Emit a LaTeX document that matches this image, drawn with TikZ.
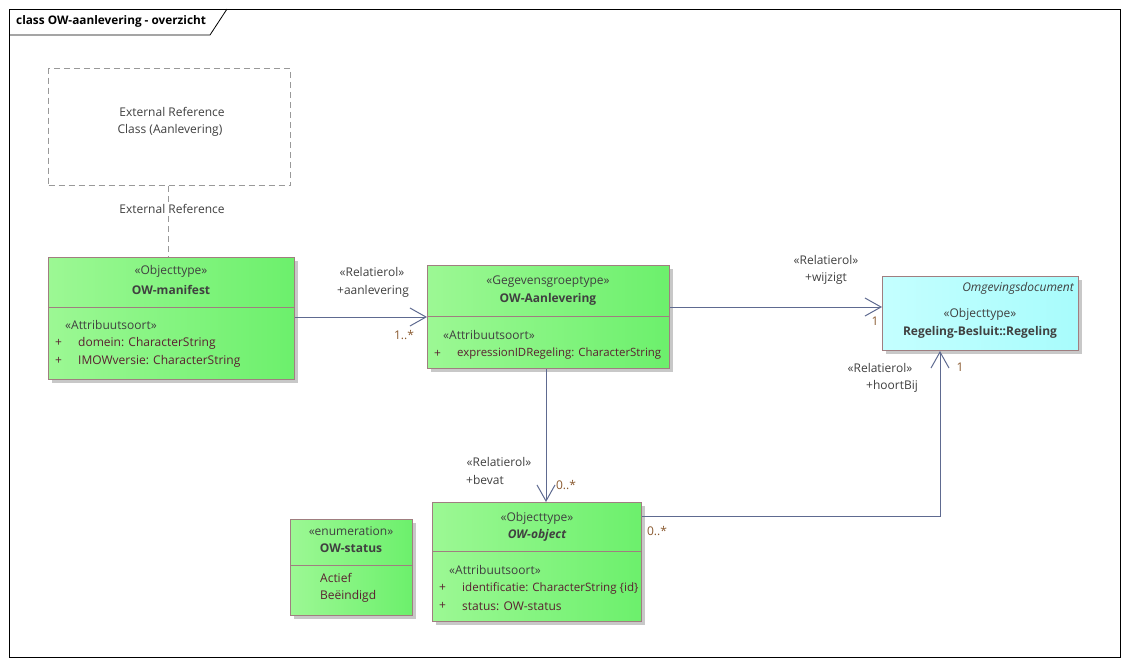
\documentclass[tikz,border=0pt]{standalone}
\usepackage{fontspec}
\setmainfont{Open Sans}
\usetikzlibrary{arrows.meta}
\definecolor{gL}{HTML}{9CF894}
\definecolor{gR}{HTML}{6CF06C}
\definecolor{cL}{HTML}{C4FFFF}
\definecolor{cR}{HTML}{A8FCFC}
\definecolor{bord}{HTML}{A07E80}
\definecolor{lnc}{HTML}{5E6A90}
\definecolor{txt}{HTML}{404040}
\definecolor{attr}{HTML}{5A2030}
\definecolor{mult}{HTML}{8A5A30}
\definecolor{shad}{HTML}{C8C8C8}
\newcommand{\fsz}{\fontsize{12}{14}\selectfont}
\tikzset{
  umlbox/.style={draw=bord, line width=1pt, left color=gL, right color=gR, anchor=north west, inner sep=0pt},
  cyanbox/.style={draw=bord, line width=1pt, left color=cL, right color=cR, anchor=north west, inner sep=0pt},
  shadowbox/.style={fill=shad, draw=none, anchor=north west, inner sep=0pt},
  divline/.style={draw=bord, line width=1pt},
  lbl/.style={font=\fsz, text=txt, inner sep=0pt},
  albl/.style={font=\fsz, text=attr, inner sep=0pt, anchor=west},
  mlbl/.style={font=\fsz, text=mult, inner sep=0pt},
  conn/.style={draw=lnc, line width=1pt},
  assoc/.style={conn, -{Straight Barb[length=16pt,width=18pt,line width=1pt]}},
}
\begin{document}
\begin{tikzpicture}[x=1pt,y=-1pt]
\useasboundingbox (0,0) rectangle (1129,665);
\fill[white] (0,0) rectangle (1129,665);
% frame
\draw[black, line width=0.8pt] (9,9) rectangle (1120,657);
\draw[black, line width=0.8pt] (9,35) -- (210,35) -- (227,9);
\node[font=\fontsize{11.8}{13}\selectfont\bfseries, text=black, anchor=west, inner sep=0pt] (title) at (16,21) {class OW-aanlevering - overzicht};

% external reference
\node[draw=gray!80, dashed, dash pattern=on 6pt off 4pt, line width=1pt, minimum width=242, minimum height=117, anchor=north west, inner sep=0pt] (ext) at (48,68) {};
\node[lbl] (extt1) at (172,112) {External Reference};
\node[lbl] (extt2) at (170,130) {Class (Aanlevering)};

% OW-manifest
\node[shadowbox, minimum width=246, minimum height=122] (mans) at (52,261) {};
\node[umlbox, minimum width=246, minimum height=122] (man) at (48,257) {};
\draw[divline] (48,307) -- (294,307);
\node[lbl] (man1) at (171,271) {«Objecttype»};
\node[lbl, font=\fsz\bfseries] (man2) at (171,290) {OW-manifest};
\node[albl, text=txt] (man3) at (65,325) {«Attribuutsoort»};
\node[albl] (man4) at (55,343) {+};
\node[albl] (man5) at (78,343) {domein: CharacterString};
\node[albl] (man6) at (55,361) {+};
\node[albl] (man7) at (78,361) {IMOWversie: CharacterString};

% OW-Aanlevering
\node[shadowbox, minimum width=242, minimum height=103] (aans) at (431,269) {};
\node[umlbox, minimum width=242, minimum height=103] (aan) at (427,265) {};
\draw[divline] (427,316) -- (669,316);
\node[lbl] (aan1) at (548,282) {«Gegevensgroeptype»};
\node[lbl, font=\fsz\bfseries] (aan2) at (548,299) {OW-Aanlevering};
\node[albl, text=txt] (aan3) at (443,335) {«Attribuutsoort»};
\node[albl] (aan4) at (434,354) {+};
\node[albl, font=\fontsize{11.4}{14}\selectfont] (aan5) at (457,354) {expressionIDRegeling: CharacterString};

% Regeling
\node[shadowbox, minimum width=196, minimum height=74] (regs) at (886,280) {};
\node[cyanbox, minimum width=196, minimum height=74] (reg) at (882,276) {};
\node[lbl, font=\fsz\itshape, anchor=east] (reg1) at (1074,288) {Omgevingsdocument};
\node[lbl] (reg2) at (980,314) {«Objecttype»};
\node[lbl, font=\fsz\bfseries] (reg3) at (980,332) {Regeling-Besluit::Regeling};

% OW-object
\node[shadowbox, minimum width=209, minimum height=119] (objs) at (436,506) {};
\node[umlbox, minimum width=209, minimum height=119] (obj) at (432,502) {};
\draw[divline] (432,551) -- (641,551);
\node[lbl] (obj1) at (537,518) {«Objecttype»};
\node[lbl, font=\fsz\bfseries\itshape] (obj2) at (537,535) {OW-object};
\node[albl, text=txt] (obj3) at (449,570) {«Attribuutsoort»};
\node[albl] (obj4) at (439,588) {+};
\node[albl, font=\fontsize{11.6}{14}\selectfont] (obj5) at (462,588) {identificatie: CharacterString \{id\}};
\node[albl] (obj6) at (439,606) {+};
\node[albl] (obj7) at (462,606) {status: OW-status};

% OW-status
\node[shadowbox, minimum width=122, minimum height=96] (stas) at (294,523) {};
\node[umlbox, minimum width=122, minimum height=96] (sta) at (290,519) {};
\draw[divline] (290,565) -- (412,565);
\node[lbl] (sta1) at (351,531) {«enumeration»};
\node[lbl, font=\fsz\bfseries] (sta2) at (351,548) {OW-status};
\node[albl] (sta3) at (320,578) {Actief};
\node[albl] (sta4) at (320,596) {Beëindigd};

% connectors
\draw[dashed, draw=gray!80, dash pattern=on 6pt off 4pt, line width=1pt] (ext.south -| 168,0) -- (man.north -| 168,0);
\node[lbl, fill=white, inner sep=1pt] (extlbl) at (172,209) {External Reference};

\draw[assoc] (man.east |- 0,317) -- (aan.west |- 0,317);
\node[lbl] (r1a) at (372,272) {«Relatierol»};
\node[lbl] (r1b) at (373,291) {+aanlevering};
\node[mlbl] (m1) at (404,335) {1..*};

\draw[assoc] (aan.east |- 0,307) -- (reg.west |- 0,307);
\node[lbl] (r2a) at (826,260) {«Relatierol»};
\node[lbl] (r2b) at (826,279) {+wijzigt};
\node[mlbl] (m2) at (875,321) {1};

\draw[assoc] (aan.south -| 546,0) -- (obj.north -| 546,0);
\node[lbl] (r3a) at (499,462) {«Relatierol»};
\node[lbl, anchor=west] (r3b) at (466,480) {+bevat};
\node[mlbl] (m3) at (566,485) {0..*};

\coordinate (bend) at (940,516);
\draw[assoc] (obj.east |- 0,516) -- (bend) -- (reg.south -| 940,0);
\node[mlbl] (m4a) at (657,531) {0..*};
\node[lbl] (r4a) at (880,368) {«Relatierol»};
\node[lbl] (r4b) at (892,386) {+hoortBij};
\node[mlbl] (m4b) at (960,367) {1};
\end{tikzpicture}
\end{document}
